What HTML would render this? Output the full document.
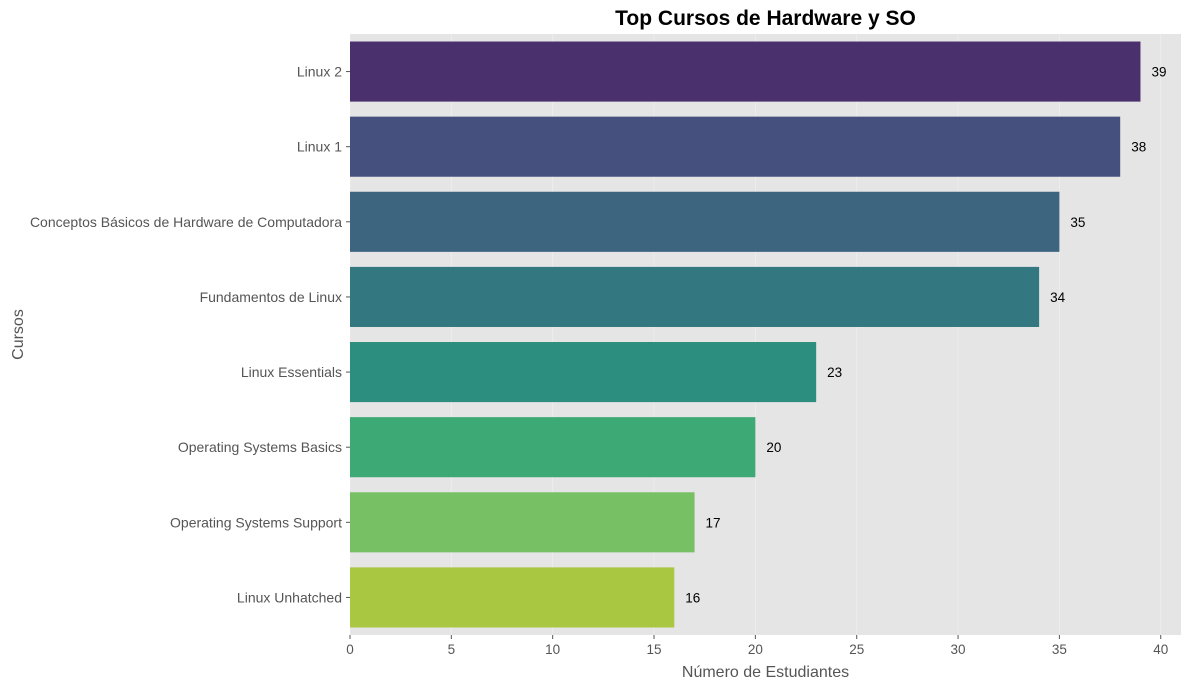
<!DOCTYPE html>
<html><head><meta charset="utf-8"><style>
body{margin:0;background:#fff;font-family:"Liberation Sans",Arial,sans-serif}
</style></head><body>
<svg id="chart" width="1189" height="690" xmlns="http://www.w3.org/2000/svg"></svg>
<script>
const categories=["Linux 2","Linux 1","Conceptos Básicos de Hardware de Computadora","Fundamentos de Linux","Linux Essentials","Operating Systems Basics","Operating Systems Support","Linux Unhatched"];
const values=[39,38,35,34,23,20,17,16];
const colors=["#4a306c","#46507f","#3d6580","#337880","#2c8e7e","#3da975","#78c064","#a9c740"];
const xTicks=[0,5,10,15,20,25,30,35,40];
const svg=document.getElementById('chart');
const NS="http://www.w3.org/2000/svg";
const L=350,R=1181,T=34,B=635,XMAX=41;
const x=v=>L+v/XMAX*(R-L);
const band=(B-T)/categories.length;
const yc=i=>T+band*(i+0.5);
function el(t,a,txt){const e=document.createElementNS(NS,t);for(const k in a)e.setAttribute(k,a[k]);if(txt!==undefined)e.textContent=txt;svg.appendChild(e);return e;}
let bg=el('rect',{x:L,y:T,width:R-L,height:B-T,fill:'#e5e5e5'});


xTicks.forEach(t=>{
 let g=el('line',{x1:x(t),x2:x(t),y1:T,y2:B,stroke:'#fff','stroke-width':0.8,'stroke-opacity':0.35});
 
 
 let tk=el('line',{x1:x(t),x2:x(t),y1:B,y2:B+4,stroke:'#555'});
 
 
 let lb=el('text',{x:x(t),y:B+19,'text-anchor':'middle','font-size':13.5,fill:'#555'},t);
 
 
});
categories.forEach((c,i)=>{
 const h=band*0.8;
 let r=el('rect',{x:L,y:yc(i)-h/2,width:x(values[i])-L,height:h,fill:colors[i]});
 
 
 let v=el('text',{x:x(values[i])+11,y:yc(i)+5,'font-size':13.5,fill:'#000'},values[i]);
 
 
 let tk=el('line',{x1:L-4,x2:L,y1:yc(i),y2:yc(i),stroke:'#555'});
 
 
 let lb=el('text',{x:L-8,y:yc(i)+5,'text-anchor':'end','font-size':14,fill:'#555'},c);
 
 
});
let tt=el('text',{x:(L+R)/2,y:25,'text-anchor':'middle','font-size':21,'font-weight':'bold',fill:'#000'},'Top Cursos de Hardware y SO');


let xt=el('text',{x:(L+R)/2,y:677,'text-anchor':'middle','font-size':16,fill:'#555'},'Número de Estudiantes');


let yt=el('text',{x:23,y:(T+B)/2,'text-anchor':'middle','font-size':16,fill:'#555',transform:`rotate(-90 23 ${(T+B)/2})`},'Cursos');


</script>
</body></html>
